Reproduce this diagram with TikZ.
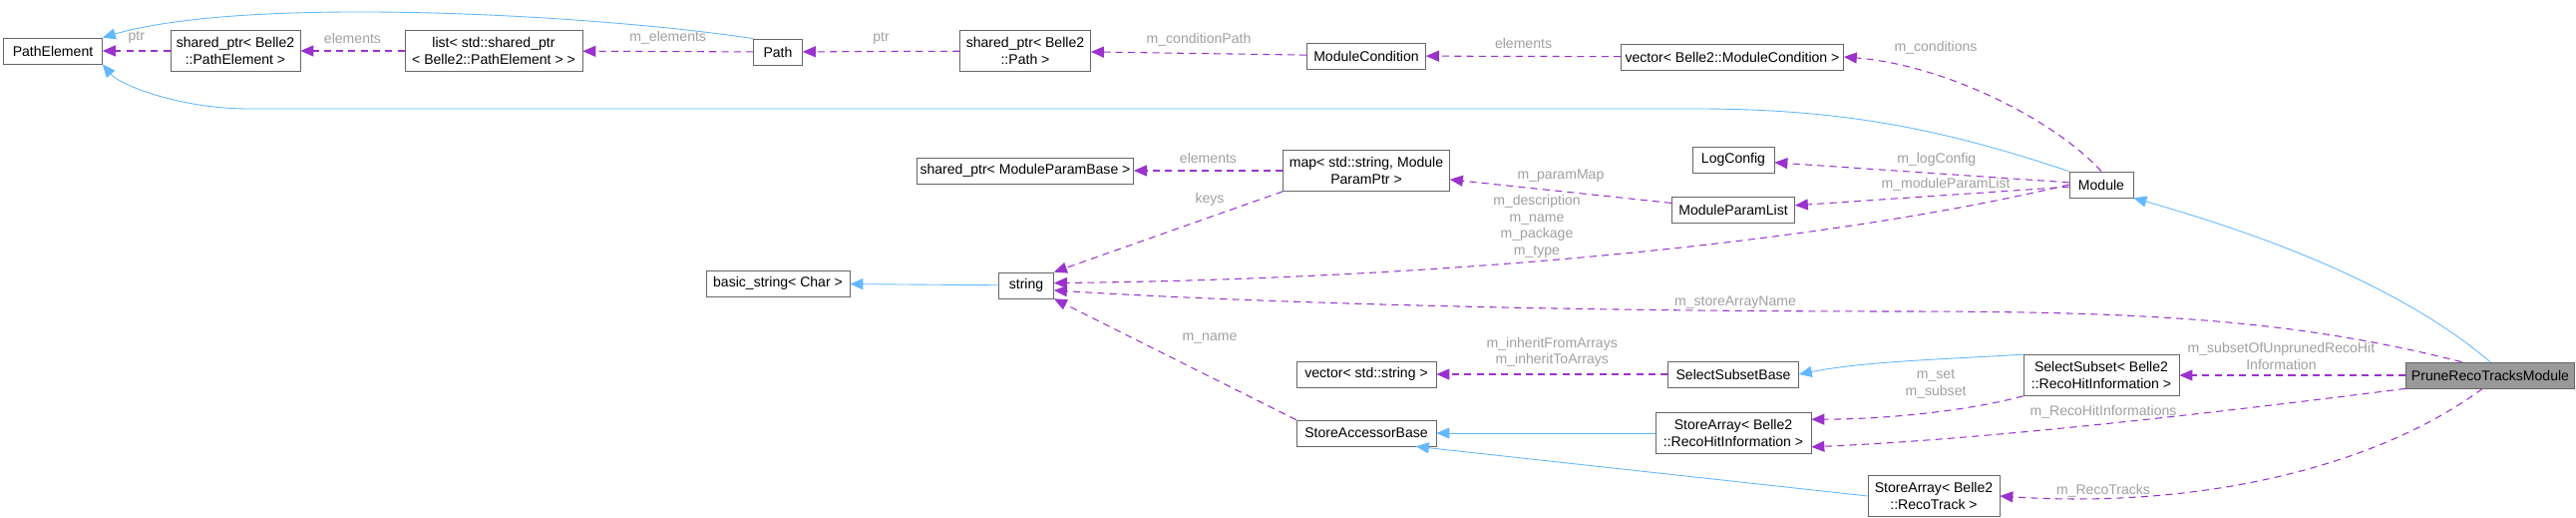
\documentclass[tikz,border=0pt]{standalone}
\usepackage{fontspec}
\setmainfont{Liberation Sans}
\usetikzlibrary{arrows.meta}

\definecolor{inhblue}{HTML}{63B8FF}
\definecolor{usepurple}{HTML}{9A32CD}
\definecolor{lblgray}{HTML}{A0A0A0}

\tikzset{
  cls/.style={draw=black!60, fill=white, font=\fontsize{8}{9.4}\selectfont, align=center,
    inner sep=1pt, minimum height=0.52cm},
  cls2/.style={cls, minimum height=0.82cm},
  inh/.style={color=inhblue, line width=0.5pt, -{Triangle[length=2.6mm,width=2.2mm]}},
  use/.style={color=usepurple, line width=0.6pt, dash pattern=on 4pt off 3pt,
    -{Triangle[length=2.6mm,width=2.2mm]}},
  lbl/.style={font=\fontsize{8}{9.4}\selectfont, text=lblgray, align=center, inner sep=1pt}
}

\begin{document}
\begin{tikzpicture}[x=0.02cm,y=-0.02cm]
\useasboundingbox (0,0) rectangle (2583,519);

% classes
\node[cls, minimum width=1.98cm]  (pe)    at (53,51)    {PathElement};
\node[cls2, minimum width=2.6cm]  (spPE)  at (236,51)   {shared\_ptr< Belle2\\::PathElement >};
\node[cls2, minimum width=3.56cm] (lst)   at (495,51)   {list< std::shared\_ptr\\< Belle2::PathElement > >};
\node[cls, minimum width=0.98cm]  (path)  at (780,52)   {Path};
\node[cls2, minimum width=2.62cm] (spPath) at (1028,51) {shared\_ptr< Belle2\\::Path >};
\node[cls, minimum width=2.38cm]  (mc)    at (1370,56)  {ModuleCondition};
\node[cls, minimum width=4.46cm]  (vmc)   at (1737,57)  {vector< Belle2::ModuleCondition >};
\node[cls, minimum width=1.28cm]  (mod)   at (2107,185) {Module};
\node[cls, minimum width=1.64cm]  (log)   at (1738,160) {LogConfig};
\node[cls, minimum width=2.46cm]  (mpl)   at (1738,210) {ModuleParamList};
\node[cls2, minimum width=3.34cm] (map)   at (1370,171) {map< std::string, Module\\ParamPtr >};
\node[cls, minimum width=4.34cm]  (spMPB) at (1028,171) {shared\_ptr< ModuleParamBase >};
\node[cls, minimum width=1.1cm]   (str)   at (1029,286) {string};
\node[cls, minimum width=2.88cm]  (bstr)  at (780,284)  {basic\_string< Char >};
\node[cls, minimum width=2.8cm]   (vstr)  at (1370,375) {vector< std::string >};
\node[cls, minimum width=2.62cm]  (ssb)   at (1738,375) {SelectSubsetBase};
\node[cls, minimum width=2.8cm]   (sab)   at (1370,434) {StoreAccessorBase};
\node[cls2, minimum width=3.12cm] (ss)    at (2107,376) {SelectSubset< Belle2\\::RecoHitInformation >};
\node[cls2, minimum width=3.12cm] (sarh)  at (1738,434) {StoreArray< Belle2\\::RecoHitInformation >};
\node[cls2, minimum width=2.64cm] (sart)  at (1939,497) {StoreArray< Belle2\\::RecoTrack >};
\node[cls, minimum width=3.38cm, fill=black!40] (prune) at (2497,376) {PruneRecoTracksModule};

% inheritance
\draw[inh] (path.north west) .. controls (600,15) and (250,-5) .. (pe.north east);
\draw[inh] (mod.north west) .. controls (1950,130) and (1850,109) .. (1700,109)
  -- (250,109) .. controls (180,109) and (120,85) .. (pe.south east);
\draw[inh] (prune.north) .. controls (2400,280) and (2250,230) .. (mod.south east);
\draw[inh] (str) -- (bstr);
\draw[inh] (ss.165) .. controls (1950,360) and (1870,362) .. (ssb.east);
\draw[inh] (sarh) -- (sab);
\draw[inh] (sart.west) -- (sab.-15);

% usage
\path[use] (spPE) edge node[lbl, above=3pt] {ptr} (pe)
           (lst) edge node[lbl, above=3pt] {elements} (spPE)
           (path) edge node[lbl, above=3pt] {m\_elements} (lst)
           (spPath) edge node[lbl, above=3pt] {ptr} (path)
           (mc) edge node[lbl, above=3pt] {m\_conditionPath} (spPath)
           (vmc) edge node[lbl, above=3pt] {elements} (mc)
           (mod) edge node[lbl, above=3pt, pos=0.45] {m\_logConfig} (log)
           (mod) edge node[lbl, above=1pt, pos=0.45] {m\_moduleParamList} (mpl)
           (mpl) edge node[lbl, above=4pt] {m\_paramMap} (map)
           (map) edge node[lbl, above=3pt] {elements} (spMPB)
           (ssb) edge node[lbl, above=3pt] {m\_inheritFromArrays\\m\_inheritToArrays} (vstr)
           (prune) edge node[lbl, above=2pt, pos=0.55] {m\_subsetOfUnprunedRecoHit\\Information} (ss);
\draw[use] (mod.north) .. controls (2060,120) and (1950,65) .. (vmc.east);
\draw[use] (map.south west) -- (str.north east);
\draw[use] (mod.west) .. controls (1800,250) and (1400,280) .. (str.5);
\draw[use] (prune.155) .. controls (2300,320) and (2150,312) .. (1900,312)
  .. controls (1500,312) and (1200,300) .. (str.-10);
\draw[use] (sab.north west) -- (str.south east);
\draw[use] (ss.south west) .. controls (1980,410) and (1900,420) .. (sarh.10);
\draw[use] (prune.south west) .. controls (2250,410) and (2000,440) .. (sarh.-10);
\draw[use] (prune.-120) .. controls (2380,470) and (2200,510) .. (sart.east);

% edge labels
\node[lbl] at (1941,48)  {m\_conditions};
\node[lbl] at (1213,200) {keys};
\node[lbl] at (1541,227) {m\_description\\m\_name\\m\_package\\m\_type};
\node[lbl] at (1740,303) {m\_storeArrayName};
\node[lbl] at (1213,339) {m\_name};
\node[lbl] at (1941,385) {m\_set\\m\_subset};
\node[lbl] at (2109,413) {m\_RecoHitInformations};
\node[lbl] at (2109,492) {m\_RecoTracks};
\end{tikzpicture}
\end{document}
